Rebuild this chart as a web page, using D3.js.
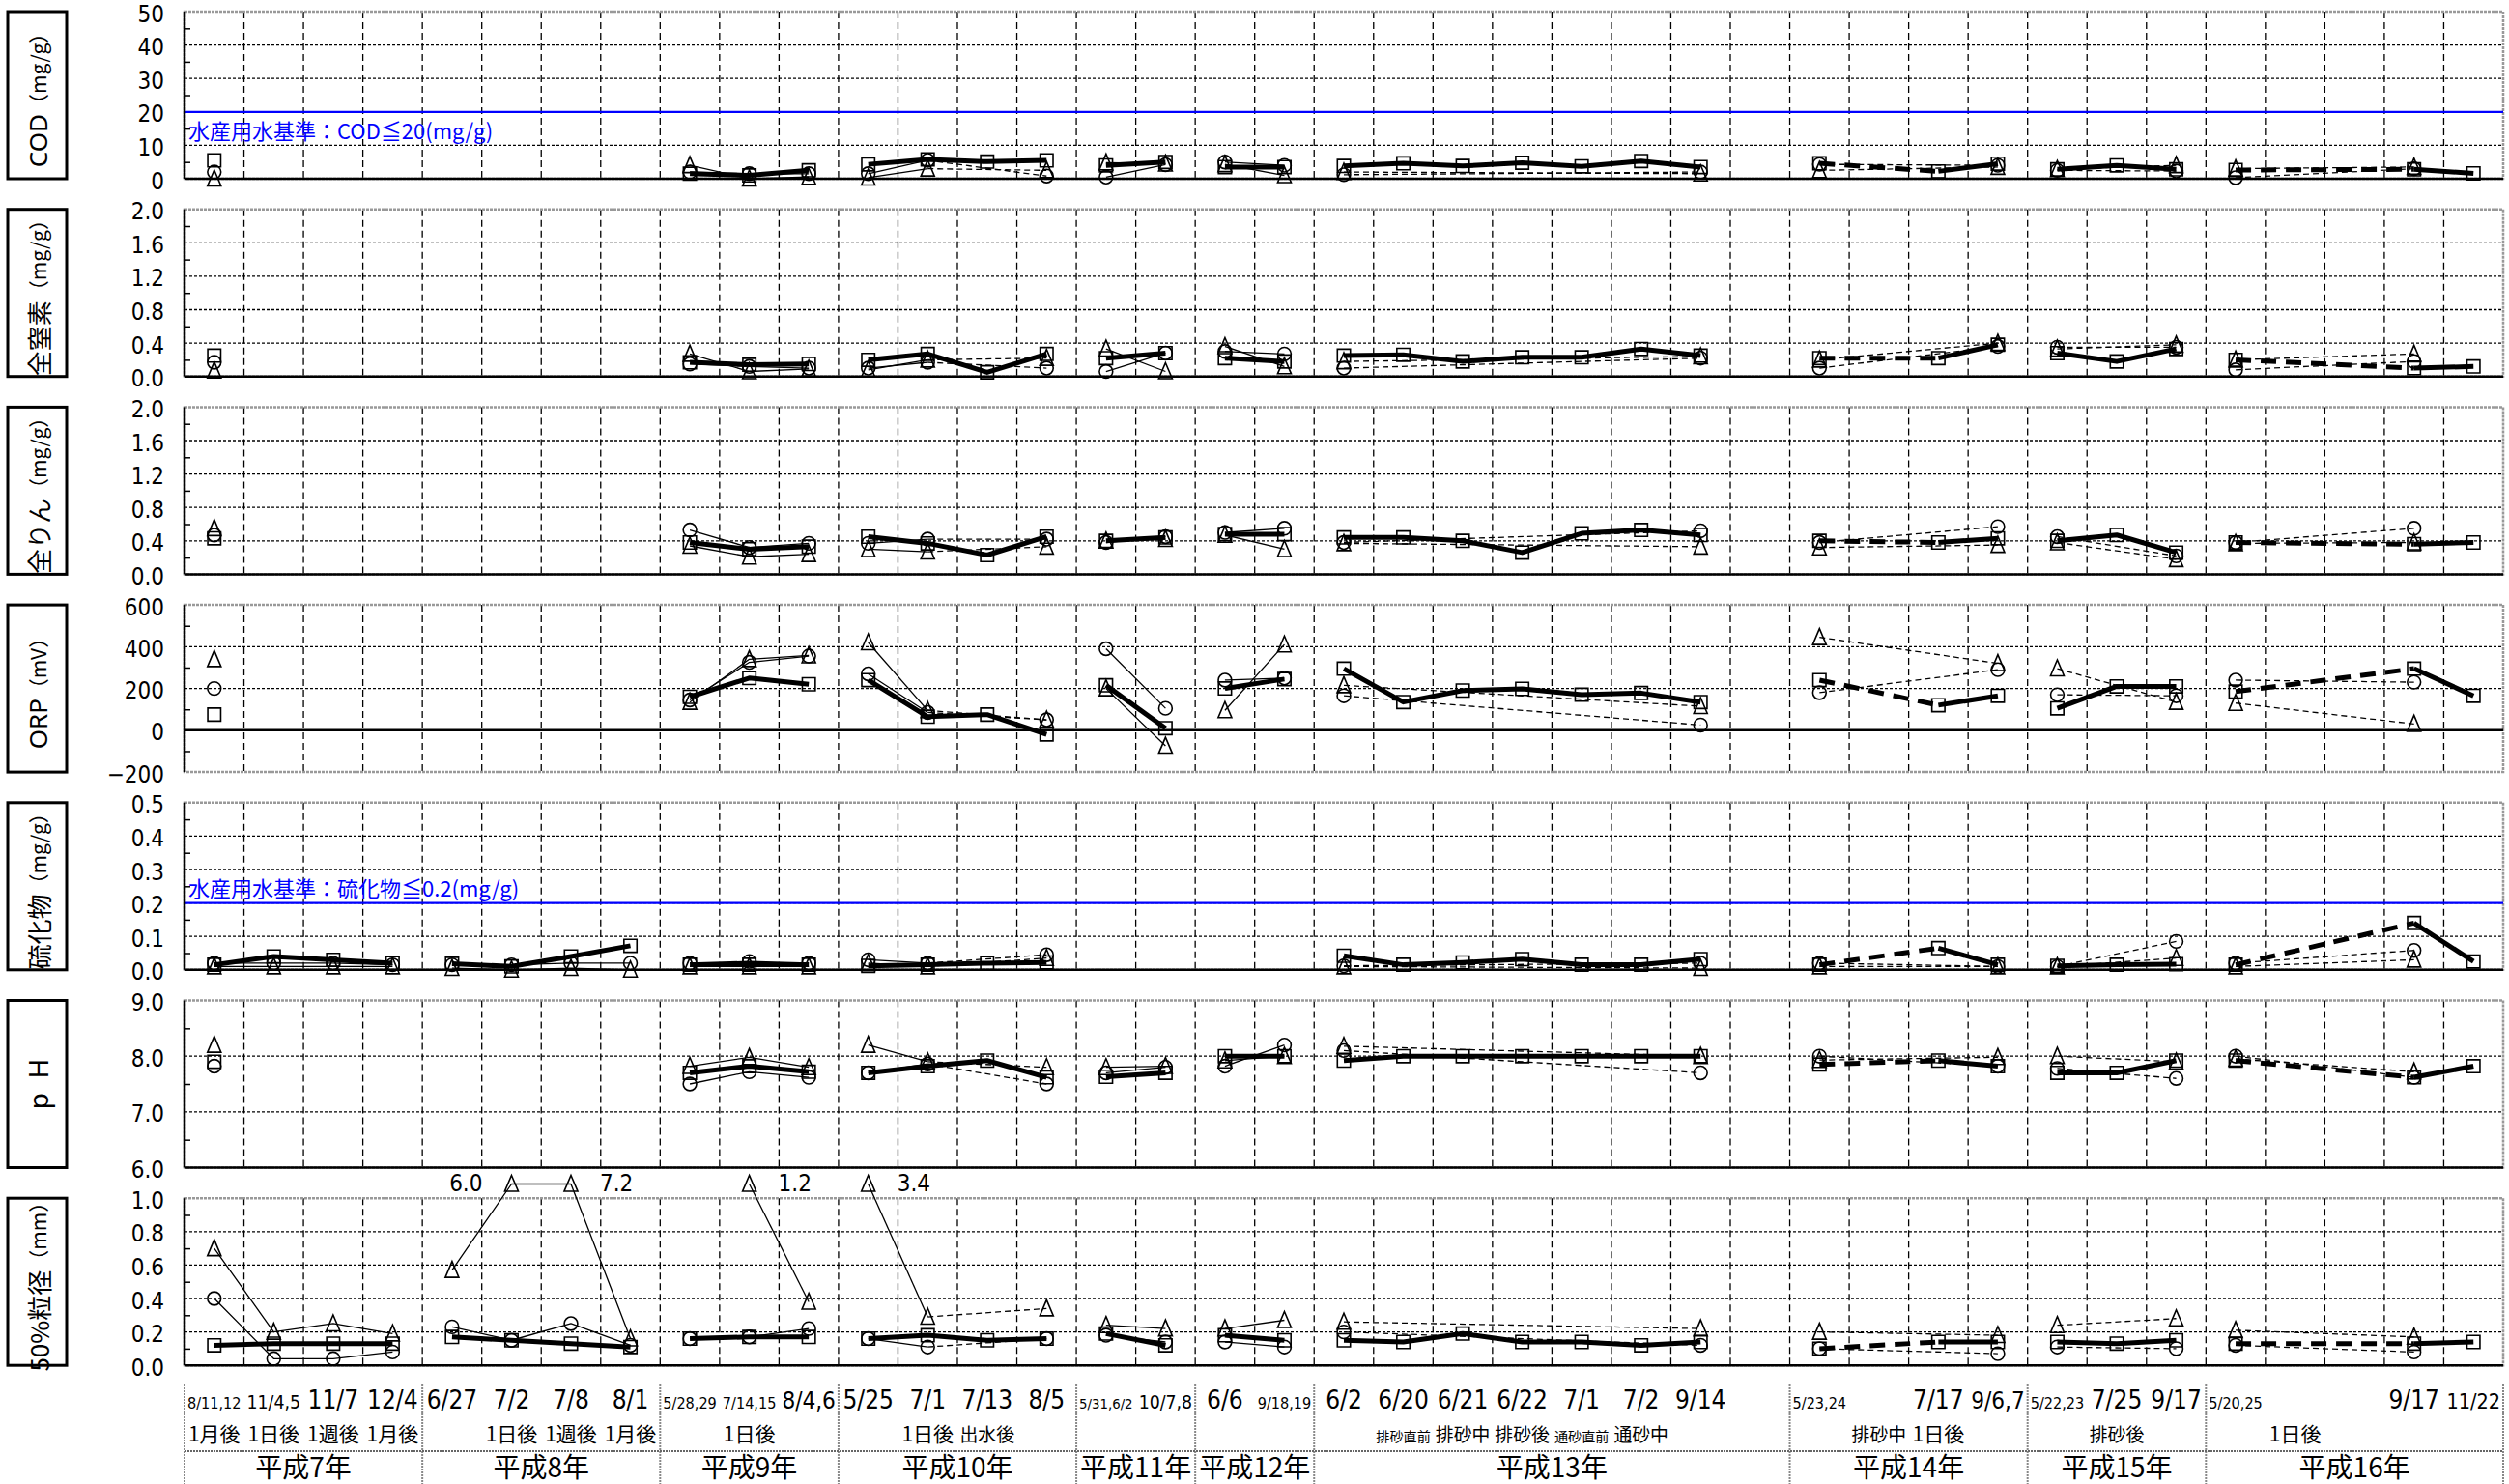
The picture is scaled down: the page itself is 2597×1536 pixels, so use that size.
<!DOCTYPE html>
<html>
<head>
<meta charset="utf-8">
<script src="https://cdn.jsdelivr.net/npm/d3@7"></script>
<style>
body { margin: 0; background: #fff; }
svg { display: block; }
</style>
</head>
<body>
<svg id="chart" width="2597" height="1536"></svg>
<script>
const _ = null;

// sampling columns
const dates = ["8/11,12","11/4,5","11/7","12/4", "6/27","7/2","7/8","8/1", "5/28,29","7/14,15","8/4,6",
  "5/25","7/1","7/13","8/5", "5/31,6/2","10/7,8", "6/6","9/18,19",
  "6/2","6/20","6/21","6/22","7/1","7/2","9/14","", "5/23,24","","7/17","9/6,7",
  "5/22,23","7/25","9/17", "5/20,25","","","9/17","11/22"];
const notes = ["1月後","1日後","1週後","1月後", "","1日後","1週後","1月後", "","1日後","",
  "","1日後","出水後","", "","", "","",
  "","排砂直前","排砂中","排砂後","通砂直前","通砂中","","", "","排砂中","1日後","",
  "","排砂後","", "","1日後","","",""];
const years = ["平成7年","平成8年","平成9年","平成10年","平成11年","平成12年","平成13年","平成14年","平成15年","平成16年"];
const yearCols = [4,4,3,4,2,2,8,4,3,5];

// COD (mg/g)
const codSq = [5.5,_,_,_, _,_,_,_, 1.5,1.0,2.5, 4.3,5.8,5.1,5.5, 4.0,5.0, 3.5,3.5, 3.8,4.6,3.8,4.8,3.7,5.3,3.5,_, 4.6,_,2.2,4.5, 2.8,4.0,2.8, 2.6,_,_,2.8,1.6];
const codCi = [2.0,_,_,_, _,_,_,_, 2.0,1.5,1.5, 1.5,5.5,_,0.8, 0.5,4.2, 5.0,4.0, 1.2,_,_,_,_,_,2.0,_, 4.3,_,_,4.0, 2.5,_,2.3, 0.3,_,_,3.0,_];
const codTr = [0,_,_,_, _,_,_,_, 4.0,0,0.5, 0.3,3.0,_,2.5, 4.8,4.5, 4.3,1.0, 2.0,_,_,_,_,_,1.5,_, 2.5,_,_,3.5, 2.8,_,4.0, 3.0,_,_,3.5,_];
// 全窒素 (mg/g)
const tnSq = [0.25,_,_,_, _,_,_,_, 0.17,0.14,0.15, 0.2,0.27,0.05,0.27, 0.22,0.28, 0.22,0.18, 0.25,0.26,0.18,0.23,0.23,0.33,0.25,_, 0.22,_,0.22,0.38, 0.28,0.18,0.33, 0.2,_,_,0.1,0.12];
const tnCi = [0.17,_,_,_, _,_,_,_, 0.15,0.12,0.1, 0.1,0.17,_,0.1, 0.06,0.28, 0.3,0.27, 0.1,_,_,_,_,_,0.22,_, 0.1,_,_,0.36, 0.35,_,0.35, 0.08,_,_,0.18,_];
const tnTr = [0.07,_,_,_, _,_,_,_, 0.27,0.06,0.09, 0.08,0.2,_,0.22, 0.33,0.06, 0.36,0.12, 0.18,_,_,_,_,_,0.24,_, 0.2,_,_,0.4, 0.33,_,0.38, 0.2,_,_,0.27,_];
// 全りん (mg/g)
const tpSq = [0.43,_,_,_, _,_,_,_, 0.38,0.3,0.33, 0.45,0.37,0.23,0.45, 0.4,0.44, 0.48,0.48, 0.44,0.44,0.4,0.26,0.49,0.53,0.47,_, 0.4,_,0.38,0.43, 0.4,0.47,0.26, 0.38,_,_,0.36,0.38];
const tpCi = [0.47,_,_,_, _,_,_,_, 0.53,0.32,0.37, 0.37,0.42,_,0.42, 0.38,0.45, 0.5,0.55, 0.38,_,_,_,_,_,0.52,_, 0.38,_,_,0.57, 0.45,_,0.22, 0.38,_,_,0.55,_];
const tpTr = [0.55,_,_,_, _,_,_,_, 0.34,0.21,0.24, 0.3,0.27,_,0.33, 0.4,0.42, 0.47,0.3, 0.37,_,_,_,_,_,0.33,_, 0.32,_,_,0.35, 0.38,_,0.18, 0.37,_,_,0.38,_];
// ORP (mV)
const orpSq = [75,_,_,_, _,_,_,_, 160,250,220, 240,65,75,-20, 215,10, 200,245, 295,135,190,198,170,178,135,_, 240,_,120,165, 105,210,210, 185,_,_,295,165];
const orpCi = [200,_,_,_, _,_,_,_, 145,325,355, 270,85,_,50, 390,105, 240,250, 165,_,_,_,_,_,25,_, 180,_,_,290, 170,_,165, 240,_,_,230,_];
const orpTr = [340,_,_,_, _,_,_,_, 135,340,358, 420,95,_,50, 200,-75, 95,410, 215,_,_,_,_,_,115,_, 445,_,_,320, 295,_,135, 130,_,_,30,_];
// 硫化物 (mg/g)
const sulSq = [0.015,0.04,0.03,0.02, 0.018,0.01,0.04,0.072, 0.015,0.015,0.015, 0.012,0.015,0.02,0.022, _,_, _,_, 0.042,0.015,0.022,0.032,0.015,0.015,0.032,_, 0.015,_,0.065,0.015, 0.012,0.015,0.017, 0.015,_,_,0.14,0.025];
const sulCi = [0.02,0.02,0.02,0.015, 0.015,0.015,0.02,0.02, 0.02,0.025,0.02, 0.03,0.02,_,0.045, _,_, _,_, 0.012,_,_,_,_,_,0.02,_, 0.02,_,_,0.01, 0.01,_,0.085, 0.02,_,_,0.058,_];
const sulTr = [0.01,0.01,0.01,0.01, 0.005,0,0.005,0, 0.01,0.01,0.01, 0.02,0.01,_,0.035, _,_, _,_, 0.01,_,_,_,_,_,0.005,_, 0.01,_,_,0.01, 0.01,_,0.035, 0.01,_,_,0.03,_];
// pH
const phSq = [7.9,_,_,_, _,_,_,_, 7.7,7.82,7.72, 7.7,7.82,7.92,7.62, 7.63,7.7, 8.0,8.0, 7.92,8.0,8.0,8.0,8.0,8.0,8.0,_, 7.85,_,7.92,7.82, 7.7,7.7,7.92, 7.92,_,_,7.62,7.82];
const phCi = [7.82,_,_,_, _,_,_,_, 7.5,7.72,7.62, 7.7,7.86,_,7.5, 7.7,7.8, 7.82,8.2, 8.1,_,_,_,_,_,7.7,_, 8.0,_,_,7.82, 7.78,_,7.6, 8.0,_,_,7.62,_];
const phTr = [8.2,_,_,_, _,_,_,_, 7.82,7.98,7.8, 8.2,7.9,_,7.8, 7.8,7.82, 7.92,8.0, 8.18,_,_,_,_,_,8.0,_, 7.93,_,_,7.98, 8.0,_,7.9, 7.95,_,_,7.72,_];
// 50%粒径 (mm)
const d50Sq = [0.12,0.13,0.13,0.13, 0.17,0.15,0.13,0.11, 0.16,0.17,0.17, 0.16,0.18,0.15,0.16, 0.19,0.12, 0.18,0.15, 0.15,0.14,0.19,0.14,0.14,0.12,0.14,_, 0.1,_,0.14,0.14, 0.14,0.13,0.15, 0.13,_,_,0.13,0.14];
const d50Ci = [0.4,0.04,0.04,0.08, 0.23,0.15,0.25,0.12, 0.16,0.17,0.22, 0.16,0.11,_,0.16, 0.18,0.14, 0.14,0.11, 0.2,_,_,_,_,_,0.12,_, 0.1,_,_,0.07, 0.11,_,0.1, 0.12,_,_,0.08,_];
const d50Tr = [0.7,0.2,0.25,0.19, 0.57,6.0,7.2,0.16, _,1.2,0.38, 3.4,0.29,_,0.34, 0.24,0.22, 0.22,0.27, 0.26,_,_,_,_,_,0.22,_, 0.2,_,_,0.18, 0.24,_,0.28, 0.21,_,_,0.17,_];

// axis tick values and titles
const codTicks = [0,10,20,30,40,50];
const nTicks = [0,0.4,0.8,1.2,1.6,2.0];
const orpTicks = [-200,0,200,400,600];
const sulTicks = [0,0.1,0.2,0.3,0.4,0.5];
const phTicks = [6,7,8,9];
const d50Ticks = [0,0.2,0.4,0.6,0.8,1.0];

const panels = [
  { name: "COD", latin: true, unit: "（mg/g）", ticks: codTicks, fmt: d3.format("d"), series: [codTr, codCi, codSq],
    ref: 20, refText: "水産用水基準：COD≦20(mg/g)", refBelow: true },
  { name: "全窒素", unit: "（mg/g）", ticks: nTicks, fmt: d3.format(".1f"), series: [tnTr, tnCi, tnSq] },
  { name: "全りん", unit: "（mg/g）", ticks: nTicks, fmt: d3.format(".1f"), series: [tpTr, tpCi, tpSq] },
  { name: "ORP", latin: true, unit: "（mV）", ticks: orpTicks, fmt: d3.format("d"), series: [orpTr, orpCi, orpSq], cross: 0 },
  { name: "硫化物", unit: "（mg/g）", ticks: sulTicks, fmt: d3.format(".1f"), series: [sulTr, sulCi, sulSq],
    ref: 0.2, refText: "水産用水基準：硫化物≦0.2(mg/g)", refBelow: false },
  { name: "p  H", latin: true, unit: "", ticks: phTicks, fmt: d3.format(".1f"), series: [phTr, phCi, phSq] },
  { name: "50%粒径", unit: "（mm）", ticks: d50Ticks, fmt: d3.format(".1f"), series: [d50Tr, d50Ci, d50Sq] }
];

const plotL = 191, plotR = 2591;
const top0 = 12, step = 204.7, ph = 173;
const narrow = "'Liberation Sans Narrow','DejaVu Sans Condensed','Roboto Condensed','Liberation Sans',sans-serif";
const cjk = "'Noto Sans CJK JP','Noto Sans',sans-serif";

const svg = d3.select("#chart");
const x = d3.scaleBand().domain(d3.range(dates.length)).range([plotL, plotR]);
const bw = x.bandwidth();
const cx = i => x(i) + bw / 2;

const yearOf = [];
const yearStart = [];
yearCols.forEach((n, k) => { yearStart.push(yearOf.length); for (let j = 0; j < n; j++) yearOf.push(k); });

// runs of connected points: break between years, dashed where a column is skipped
function runs(vals) {
  const idx = [];
  vals.forEach((v, i) => { if (v != null) idx.push(i); });
  const out = [];
  let cur = null;
  for (let k = 1; k < idx.length; k++) {
    const a = idx[k - 1], b = idx[k];
    if (yearOf[a] !== yearOf[b]) { cur = null; continue; }
    const dashed = b - a > 1;
    if (cur && cur.dashed === dashed && cur.pts[cur.pts.length - 1] === a) cur.pts.push(b);
    else { cur = { dashed, pts: [a, b] }; out.push(cur); }
  }
  return out;
}

const tri = { draw(ctx) { ctx.moveTo(0, -9); ctx.lineTo(7, 7.5); ctx.lineTo(-7, 7.5); ctx.closePath(); } };
const styles = [
  { w: 1.3, dash: "6,4", sym: d3.symbol(tri, 100) },
  { w: 1.3, dash: "6,4", sym: d3.symbol(d3.symbolCircle, 150) },
  { w: 5, dash: "16,10", sym: d3.symbol(d3.symbolSquare, 180) }
];

panels.forEach((p, pi) => {
  const top = top0 + pi * step, bot = top + ph;
  const dom = [p.ticks[0], p.ticks[p.ticks.length - 1]];
  const y = d3.scaleLinear().domain(dom).range([bot, top]);
  const cross = p.cross != null ? p.cross : dom[0];
  const g = svg.append("g");

  // vertical grid
  g.selectAll(".vg").data(d3.range(1, dates.length)).join("line")
    .attr("x1", i => x(i)).attr("x2", i => x(i)).attr("y1", top).attr("y2", bot)
    .attr("stroke", "#000").attr("stroke-width", 1.3).attr("stroke-dasharray", "7,4");
  // horizontal grid
  g.selectAll(".hg").data(p.ticks.filter(t => t !== dom[0] && t !== dom[1] && t !== cross)).join("line")
    .attr("x1", plotL).attr("x2", plotR).attr("y1", d => y(d)).attr("y2", d => y(d))
    .attr("stroke", "#000").attr("stroke-width", 1.3).attr("stroke-dasharray", "3,2");
  // plot border
  g.append("rect").attr("x", plotL).attr("y", top).attr("width", plotR - plotL).attr("height", ph)
    .attr("fill", "none").attr("stroke", "#999").attr("stroke-width", 2.5).attr("stroke-dasharray", "3,1");

  // reference line
  if (p.ref != null) {
    g.append("line").attr("x1", plotL).attr("x2", plotR).attr("y1", y(p.ref)).attr("y2", y(p.ref))
      .attr("stroke", "#0000ff").attr("stroke-width", 2.2);
    g.append("text").attr("x", plotL + 4).attr("y", y(p.ref) + (p.refBelow ? 28 : -7))
      .attr("font-family", cjk).attr("font-size", 22).attr("fill", "#0000ff").text(p.refText);
  }

  // axes
  const minor = d3.range(p.ticks.length - 1).map(k => (p.ticks[k] + p.ticks[k + 1]) / 2);
  g.append("g").attr("transform", `translate(${plotL},0)`)
    .call(d3.axisLeft(y).tickValues(minor).tickSize(-6).tickFormat(""))
    .call(a => a.select(".domain").remove())
    .call(a => a.selectAll("line").attr("stroke", "#000").attr("stroke-width", 1.5));
  g.append("g").attr("transform", `translate(${plotL},0)`)
    .call(d3.axisLeft(y).tickValues(p.ticks).tickSize(0).tickPadding(21).tickFormat(p.fmt))
    .call(a => a.select(".domain").remove())
    .call(a => a.selectAll("text").attr("dy", "0.42em")
      .attr("font-family", narrow).attr("font-size", 24).attr("fill", "#000"));
  g.append("line").attr("x1", plotL).attr("x2", plotL).attr("y1", top).attr("y2", bot)
    .attr("stroke", "#000").attr("stroke-width", 2.5);
  g.append("line").attr("x1", plotL).attr("x2", plotR).attr("y1", y(cross)).attr("y2", y(cross))
    .attr("stroke", "#000").attr("stroke-width", 2.5);

  // series: triangle, circle, square
  const cap = dom[1] + (dom[1] - dom[0]) * 0.085;
  const yv = v => y(Math.min(v, cap));
  const line = d3.line().x(i => cx(i));
  p.series.forEach((vals, si) => {
    const st = styles[si];
    runs(vals).forEach(r => {
      g.append("path").attr("d", line.y(i => yv(vals[i]))(r.pts))
        .attr("fill", "none").attr("stroke", "#000").attr("stroke-width", st.w)
        .attr("stroke-linejoin", "round")
        .attr("stroke-dasharray", r.dashed ? st.dash : null);
    });
  });
  p.series.forEach((vals, si) => {
    const st = styles[si];
    const pts = vals.map((v, i) => ({ v, i })).filter(d => d.v != null);
    g.selectAll(null).data(pts).join("path")
      .attr("transform", d => `translate(${cx(d.i)},${yv(d.v)})`)
      .attr("d", st.sym).attr("fill", "none").attr("stroke", "#000").attr("stroke-width", 1.6);
    // values beyond the scale are labelled
    pts.filter(d => d.v > dom[1]).forEach(d => {
      const left = vals[d.i + 1] != null && vals[d.i + 1] > dom[1];
      g.append("text").attr("x", cx(d.i) + (left ? -30 : 30)).attr("y", yv(d.v) + 8)
        .attr("text-anchor", left ? "end" : "start")
        .attr("font-family", narrow).attr("font-size", 24).text(d3.format(".1f")(d.v));
    });
  });

  // title box
  g.append("rect").attr("x", 8).attr("y", top).attr("width", 61).attr("height", ph)
    .attr("fill", "none").attr("stroke", "#000").attr("stroke-width", 3);
  const t = g.append("text").attr("transform", `translate(39,${top + ph / 2}) rotate(-90)`)
    .attr("text-anchor", "middle").attr("dominant-baseline", "central");
  t.append("tspan").attr("font-family", p.latin ? "'Noto Sans',sans-serif" : cjk)
    .attr("font-size", p.unit ? 26 : 28).attr("xml:space", "preserve").text(p.name);
  if (p.unit) t.append("tspan").attr("font-family", cjk).attr("font-size", 21).text(p.unit);
});

// table under the charts
const tTop = 1433, tMid = 1502, tBot = 1536;
const tg = svg.append("g");
const fit = (sel, maxW) => sel.each(function () {
  const len = this.getComputedTextLength();
  if (len > maxW) d3.select(this).attr("font-size", parseFloat(d3.select(this).attr("font-size")) * maxW / len);
});
tg.selectAll(".dt").data(dates).join("text")
  .attr("x", (d, i) => cx(i)).attr("y", 1458).attr("text-anchor", "middle")
  .attr("font-family", narrow).attr("font-size", 26).text(d => d)
  .call(fit, bw - 6);
tg.selectAll(".nt").data(notes).join("text")
  .attr("x", (d, i) => cx(i)).attr("y", 1492).attr("text-anchor", "middle")
  .attr("font-family", cjk).attr("font-size", 21).text(d => d)
  .call(fit, bw - 5);
tg.selectAll(".yr").data(years).join("text")
  .attr("x", (d, k) => x(yearStart[k]) + yearCols[k] * bw / 2).attr("y", 1529).attr("text-anchor", "middle")
  .attr("font-family", cjk).attr("font-size", 28).text(d => d);
const seps = yearStart.map(s => x(s)).concat([plotR]);
tg.selectAll(".sp").data(seps).join("line")
  .attr("x1", d => d).attr("x2", d => d).attr("y1", tTop).attr("y2", tBot)
  .attr("stroke", "#888").attr("stroke-width", 2).attr("stroke-dasharray", "2,1");
tg.append("line").attr("x1", plotL).attr("x2", plotR).attr("y1", tMid).attr("y2", tMid)
  .attr("stroke", "#666").attr("stroke-width", 2).attr("stroke-dasharray", "2,1");
</script>
</body>
</html>
